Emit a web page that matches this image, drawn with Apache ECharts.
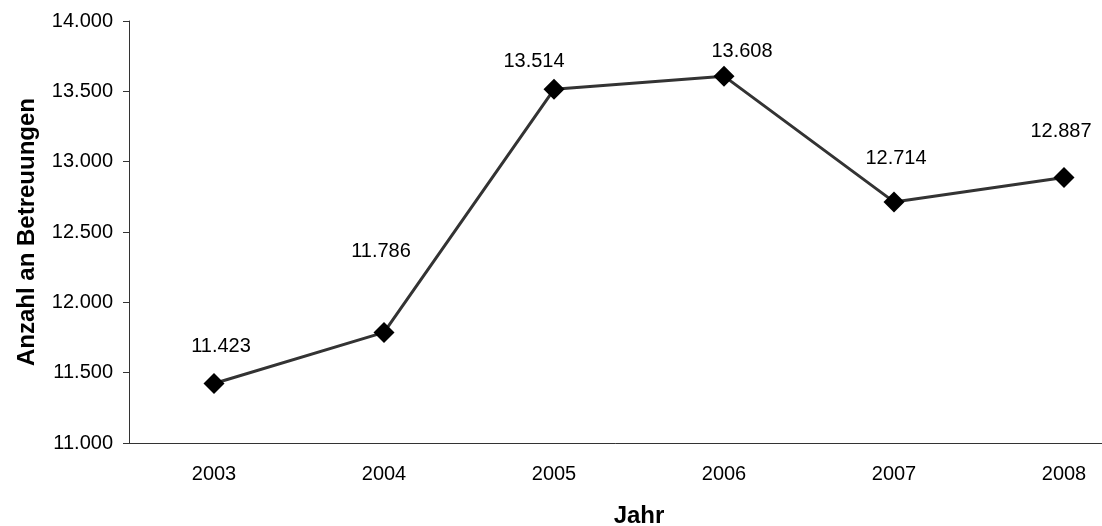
<!DOCTYPE html>
<html>
<head>
<meta charset="utf-8">
<script src="https://cdn.jsdelivr.net/npm/echarts@6/dist/echarts.min.js"></script>
<style>html,body{margin:0;padding:0;background:#fff}#c{width:1102px;height:526px}</style>
</head>
<body>
<div id="c"></div>
<script>
const years = ['2003', '2004', '2005', '2006', '2007', '2008'];
const counts = [11423, 11786, 13514, 13608, 12714, 12887];
const yTicks = [11000, 11500, 12000, 12500, 13000, 13500, 14000];
// label placement (style only), px offset from each marker
const labelOffsets = [[7, -37], [-3, -81], [-20, -28], [18, -25], [2, -43], [-3, -46]];

const fmt = v => String(v).replace(/\B(?=(\d{3})+(?!\d))/g, '.');
const font = 'Liberation Sans, Arial, sans-serif';

const chart = echarts.init(document.getElementById('c'), null, {renderer: 'canvas'});
chart.setOption({
  animation: false,
  backgroundColor: '#fff',
  grid: {left: 129, top: 21, width: 1020, height: 422, containLabel: false, outerBoundsMode: 'none'},
  xAxis: {
    type: 'category',
    data: years,
    boundaryGap: true,
    name: 'Jahr',
    nameLocation: 'middle',
    nameGap: 61,
    nameTextStyle: {fontFamily: font, fontSize: 24, fontWeight: 'bold', color: '#000'},
    axisLine: {lineStyle: {color: '#333', width: 1}},
    axisTick: {show: false},
    axisLabel: {fontFamily: font, fontSize: 20, color: '#000', margin: 21}
  },
  yAxis: {
    type: 'value',
    min: yTicks[0],
    max: yTicks[yTicks.length - 1],
    interval: 500,
    name: 'Anzahl an Betreuungen',
    nameLocation: 'middle',
    nameGap: 90,
    nameTextStyle: {fontFamily: font, fontSize: 24, fontWeight: 'bold', color: '#000'},
    axisLine: {show: true, lineStyle: {color: '#333', width: 1}},
    axisTick: {show: true, length: 6, lineStyle: {color: '#333'}},
    splitLine: {show: false},
    axisLabel: {fontFamily: font, fontSize: 20, color: '#000', margin: 16, formatter: v => fmt(v)}
  },
  series: [{
    type: 'line',
    data: counts.map((v, i) => ({
      value: v,
      label: {offset: labelOffsets[i]}
    })),
    symbol: 'diamond',
    symbolSize: 21,
    itemStyle: {color: '#000'},
    lineStyle: {color: '#333', width: 3},
    label: {
      show: true,
      position: 'inside',
      fontFamily: font,
      fontSize: 20,
      color: '#000',
      formatter: p => fmt(p.value)
    }
  }]
});
</script>
</body>
</html>
